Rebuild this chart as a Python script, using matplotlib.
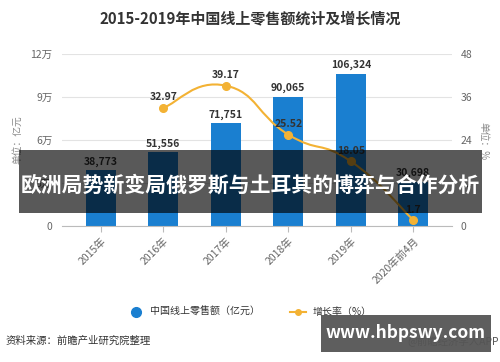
import matplotlib
matplotlib.use('Agg')
import matplotlib.pyplot as plt
from matplotlib.path import Path
from matplotlib.patches import PathPatch, Rectangle
from matplotlib.lines import Line2D
import numpy as np

plt.rcParams['font.family'] = ['Noto Sans CJK SC', 'DejaVu Sans']

# data
years = ['2015年', '2016年', '2017年', '2018年', '2019年', '2020年前4月']
sales = [38773, 51556, 71751, 90065, 106324, 30698]
growth_idx = [1, 2, 3, 4, 5]
growth = [32.97, 39.17, 25.52, 18.05, 1.7]
left_ticks = [0, 30000, 60000, 90000, 120000]
left_labels = ['0', '3万', '6万', '9万', '12万']
right_ticks = [0, 12, 24, 36, 48]

blue = '#1a7fd0'
orange = '#f3b234'
tick_col = '#666666'

fig = plt.figure(figsize=(5, 3.62), dpi=100)
ax = fig.add_axes([0.124, 0.3757, 0.78, 0.4751])
ax2 = ax.twinx()

x = np.arange(len(years))
ax.bar(x, sales, width=0.48, color=blue, zorder=2)
for xi, v in zip(x, sales):
    ax.text(xi, v + 2500, f'{v:,}', ha='center', va='bottom', fontsize=7.5,
            fontweight='bold', color='#333333', zorder=3)

ax.set_ylim(0, 120000)
ax.set_xlim(-0.62, 5.62)
ax.set_yticks(left_ticks)
ax.set_yticklabels(left_labels)
ax.grid(axis='y', color='#e3e3e3', linewidth=0.8, zorder=0)
ax.set_axisbelow(True)
ax.set_xticks(x)
ax.set_xticklabels(years, rotation=45, ha='right', rotation_mode='anchor')
ax.tick_params(axis='y', length=0, labelsize=7.5, labelcolor=tick_col, pad=7)
ax.tick_params(axis='x', length=4, color='#bbbbbb', labelsize=7.5,
               labelcolor=tick_col, pad=3)
for s in ['top', 'right', 'left']:
    ax.spines[s].set_visible(False)
ax.spines['bottom'].set_color('#bbbbbb')

# smooth growth curve (catmull-rom drawn as bezier)
gx = np.array(growth_idx, dtype=float)
gy = np.array(growth, dtype=float)
px = np.concatenate([[gx[0]], gx, [gx[-1]]])
py = np.concatenate([[gy[0]], gy, [gy[-1]]])
verts = [(gx[0], gy[0])]
codes = [Path.MOVETO]
t = 0.25
for i in range(1, len(px) - 2):
    c1 = (px[i] + (px[i + 1] - px[i - 1]) * t, py[i] + (py[i + 1] - py[i - 1]) * t)
    c2 = (px[i + 1] - (px[i + 2] - px[i]) * t, py[i + 1] - (py[i + 2] - py[i]) * t)
    verts += [c1, c2, (px[i + 1], py[i + 1])]
    codes += [Path.CURVE4] * 3
ax2.add_patch(PathPatch(Path(verts, codes), fill=False, edgecolor=orange,
                        linewidth=1.5, zorder=3))
ax2.plot(gx, gy, 'o', color=orange, markersize=5.5, zorder=4)
for xi, v in zip(gx, gy):
    ax2.text(xi, v + 1.5, f'{v:g}', ha='center', va='bottom', fontsize=7.5,
             fontweight='bold', color='#333333', zorder=5)
ax2.set_ylim(0, 48)
ax2.set_yticks(right_ticks)
ax2.tick_params(axis='y', length=0, labelsize=7.5, labelcolor=tick_col, pad=6)
for s in ax2.spines.values():
    s.set_visible(False)

fig.text(0.5, 0.95, '2015-2019年中国线上零售额统计及增长情况', ha='center',
         va='center', fontsize=10.8, fontweight='bold', color='#333333')
fig.text(0.034, 0.615, '单位：亿元', rotation=90, ha='center', va='center',
         fontsize=7, color='#888888')
fig.text(0.966, 0.61, '单位：%', rotation=270, ha='center', va='center',
         fontsize=7, color='#888888')

handles = [Line2D([], [], marker='o', linestyle='none', color=blue, markersize=7),
           Line2D([], [], marker='o', color=orange, markersize=4, linewidth=1.5)]
fig.legend(handles, ['中国线上零售额（亿元）', '增长率（%）'], loc='center',
           bbox_to_anchor=(0.5, 0.138), ncol=2, frameon=False, fontsize=7.2,
           handlelength=1.6, columnspacing=3, handletextpad=0.6,
           labelcolor='#333333')

fig.text(0.012, 0.06, '资料来源：前瞻产业研究院整理', ha='left', va='center',
         fontsize=7.5, color='#333333')
fig.text(0.998, 0.06, '@前瞻经济学人APP', ha='right', va='center',
         fontsize=7.5, color='#555555')

# overlay banners
fig.patches.append(Rectangle((0.038, 0.412), 0.926, 0.174, transform=fig.transFigure,
                             facecolor='black', alpha=0.65, zorder=10))
fig.text(0.5, 0.49, '欧洲局势新变局俄罗斯与土耳其的博弈与合作分析', ha='center',
         va='center', fontsize=15, fontweight='bold', color='white', zorder=11)
fig.patches.append(Rectangle((0.642, 0.028), 0.34, 0.102, transform=fig.transFigure,
                             facecolor='#555555', alpha=0.95, zorder=10))
fig.text(0.812, 0.079, 'www.hbpswy.com', ha='center', va='center',
         fontsize=12.5, fontweight='bold', color='white', zorder=11)

fig.savefig('out.png', dpi=100)
